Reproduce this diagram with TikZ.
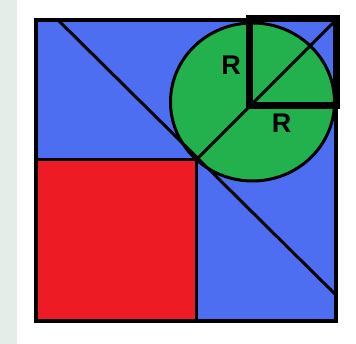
\documentclass[tikz,border=0pt]{standalone}
\usepackage{fontspec}
\setmainfont{Liberation Sans}
\definecolor{blu}{RGB}{78,110,242}
\definecolor{rd}{RGB}{237,28,36}
\definecolor{grn}{RGB}{34,177,76}
\definecolor{strip}{RGB}{228,237,232}
\begin{document}
\begin{tikzpicture}[x=1pt,y=1pt,
  edge/.style={line width=3pt, line cap=round, line join=round},
  lbl/.style={font=\fontsize{27}{27}\selectfont\bfseries, text=black, inner sep=0pt}]
\useasboundingbox (0,0) rectangle (356,344);
\fill[white] (0,0) rectangle (356,344);
\fill[strip] (0,0) rectangle (17,344);
% points
\coordinate (SW) at (36,23);
\coordinate (NE) at (336,324);
\coordinate (J) at (196,184);
\coordinate (A) at (58,324);
\coordinate (B) at (336,49);
\coordinate (C) at (252.5,242);
\coordinate (Q1) at (249,238.5);
\coordinate (Q2) at (336.5,325.5);
\coordinate (K) at (336,324);
% fills
\fill[blu] (SW) rectangle (NE);
\fill[rd] (SW) rectangle (J);
\filldraw[fill=grn, draw=black, line width=3pt] (C) ellipse [x radius=82, y radius=79];
% lines
\draw[edge] (A) -- (B);
\draw[edge] (J |- SW) -- (J) -- (SW |- J);
\draw[edge] (J) -- (K);
\draw[line width=3.5pt] (SW) rectangle (NE);
\draw[line width=7pt, line join=miter] (Q1) rectangle (Q2);
\node[lbl] (r1) at (231,279) {R};
\node[lbl] (r2) at (281.7,220.7) {R};
\end{tikzpicture}
\end{document}
